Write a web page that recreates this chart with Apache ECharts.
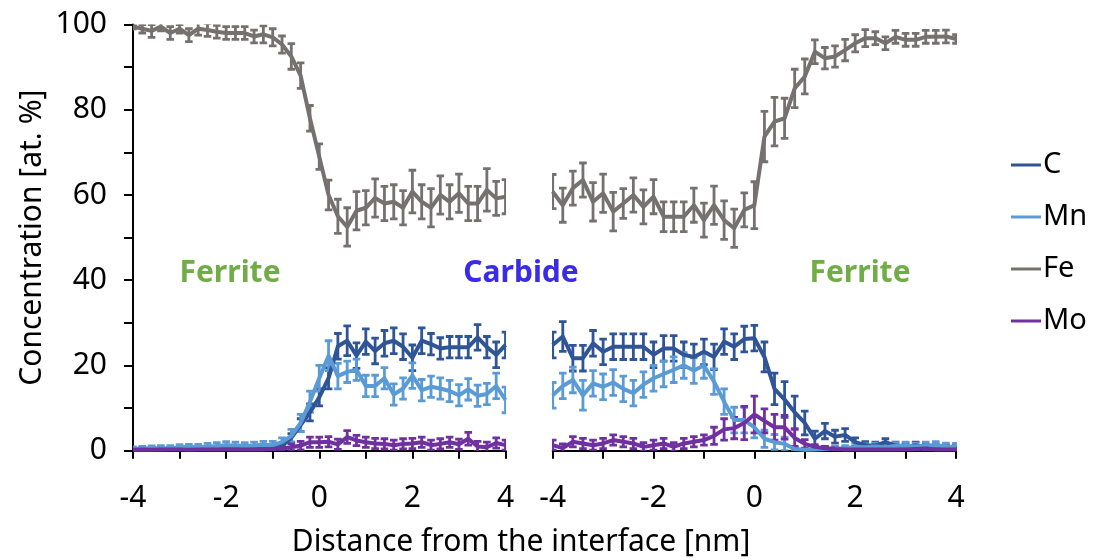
<!DOCTYPE html>
<html>
<head>
<meta charset="utf-8">
<script src="https://cdn.jsdelivr.net/npm/echarts@6/dist/echarts.min.js"></script>
<style>
  html, body { margin: 0; padding: 0; background: #fff; }
  #chart { width: 1094px; height: 560px; }
</style>
</head>
<body>
<div id="chart"></div>
<script>
// Distance from the interface [nm], sampled every 0.2 nm in each panel
const distance = [-4, -3.8, -3.6, -3.4, -3.2, -3, -2.8, -2.6, -2.4, -2.2, -2, -1.8, -1.6, -1.4, -1.2, -1, -0.8, -0.6, -0.4, -0.2,
  0, 0.2, 0.4, 0.6, 0.8, 1, 1.2, 1.4, 1.6, 1.8, 2, 2.2, 2.4, 2.6, 2.8, 3, 3.2, 3.4, 3.6, 3.8, 4];

const xTickLabels = ['-4', '-2', '0', '2', '4'];
const yTickLabels = ['0', '20', '40', '60', '80', '100'];
const elements = ['C', 'Mn', 'Fe', 'Mo'];

// Ferrite -> carbide interface (left panel)
const leftC = [0.3, 0.3, 0.4, 0.3, 0.4, 0.5, 0.4, 0.5, 0.5, 0.6, 0.6, 0.5, 0.7, 0.8, 0.7, 0.8, 1.2, 3, 6, 9,
  12.5, 17, 24.5, 25.8, 22.3, 25.6, 23.4, 25.2, 25.8, 24.4, 21.8, 25.8, 25, 24, 24.3, 24.3, 24.3, 26.6, 24.3, 22.5, 24.8];
const leftCErr = [0.3, 0.3, 0.3, 0.3, 0.3, 0.3, 0.3, 0.3, 0.3, 0.3, 0.3, 0.3, 0.3, 0.3, 0.3, 0.3, 0.4, 1, 1.5, 2,
  2, 2.5, 3, 3.5, 3, 3, 3, 3, 3, 3, 3, 3, 2.5, 2.5, 2.5, 2.5, 2.5, 3, 2.5, 3, 3];
const leftMn = [0.4, 0.5, 0.6, 0.6, 0.6, 0.8, 0.9, 0.8, 1.0, 1.1, 1.3, 1.2, 1.1, 1.2, 1.4, 1.3, 2, 3.5, 6.5, 11.5,
  17, 22.3, 17.5, 18.5, 19, 15.2, 15.2, 17, 13.2, 14.6, 17.6, 14.2, 15, 14.6, 14, 13, 14.4, 12.9, 13.3, 15.2, 11.9];
const leftMnErr = [0.5, 0.5, 0.5, 0.6, 0.6, 0.6, 0.6, 0.7, 0.7, 0.8, 0.8, 0.8, 0.8, 0.8, 0.8, 0.9, 1, 1.5, 2, 2.5,
  3, 3.5, 3, 2.5, 2.5, 2.5, 2.5, 2.5, 2.5, 2.5, 3, 2.5, 2.5, 2.5, 2.5, 2.5, 2.5, 2.5, 2.5, 3, 3];
const leftFe = [99.5, 99, 98.5, 99.5, 98, 99, 97.5, 99, 98.7, 98.3, 98, 98, 98, 97.2, 97.7, 97, 95.3, 92.5, 88, 78,
  69, 60, 55, 52.5, 56.3, 57, 59.3, 58, 58.4, 57, 60.8, 58.4, 57, 60, 58.4, 60.4, 58, 58, 61.2, 59.2, 59.6];
const leftFeErr = [0.5, 1, 1.5, 1, 1.5, 1, 1.5, 1.5, 1.5, 1.5, 1.5, 1.5, 1.5, 1.5, 2, 2, 2, 3, 3, 3,
  3, 3.5, 4, 4.5, 4.5, 4, 4.5, 4, 4, 4, 5, 4, 4.5, 4.5, 4, 4.5, 4, 4, 5, 4, 4];
const leftMo = [0.2, 0.3, 0.2, 0.3, 0.3, 0.3, 0.2, 0.3, 0.3, 0.3, 0.3, 0.3, 0.3, 0.3, 0.3, 0.4, 0.5, 0.8, 1.2, 2,
  2, 2.1, 1.5, 3.2, 2.4, 2, 1.7, 1.6, 1.3, 1.6, 1.7, 2, 1.3, 1.6, 2, 1.5, 2.8, 1, 0.8, 1.8, 1.3];
const leftMoErr = [0.3, 0.3, 0.3, 0.3, 0.3, 0.3, 0.3, 0.3, 0.3, 0.3, 0.3, 0.3, 0.3, 0.3, 0.3, 0.3, 0.4, 0.8, 1, 1.2,
  1.2, 1.2, 1.2, 1.5, 1.2, 1.2, 1.2, 1.2, 1.2, 1.2, 1.2, 1.2, 1.2, 1.2, 1.2, 1.2, 1.5, 1.2, 1.2, 1.2, 1.2];

// Carbide -> ferrite interface (right panel)
const rightC = [24.8, 26.8, 21.7, 21.7, 25.2, 23.2, 24.4, 24.4, 24.4, 24.4, 22.5, 24, 24, 22.5, 22, 23.2, 22, 25.6, 24.4, 26.2,
  26.4, 22, 14.5, 12, 9, 6.5, 2.8, 4.6, 3.3, 3.7, 2, 1.3, 1.2, 2, 1.2, 1, 1.2, 0.9, 0.8, 0.8, 0.8];
const rightCErr = [3, 3.5, 3, 3, 3, 3, 3, 3, 3, 3, 3, 3, 3, 3, 3, 3, 3, 3, 3, 3,
  3, 3.5, 3.7, 4.2, 3.8, 2.8, 1.8, 1.8, 1.5, 1.5, 1, 0.8, 0.8, 0.8, 0.8, 0.8, 0.8, 0.6, 0.6, 0.6, 0.6];
const rightMn = [13, 15.2, 16.6, 13, 15.8, 15, 16, 14.5, 13.5, 15.5, 17, 18, 19, 20, 18.8, 20, 16.2, 11.5, 7.2, 7.2,
  5.5, 2.8, 2, 1.6, 0.4, 0.2, 0.3, 0.4, 0.5, 0.6, 0.9, 0.8, 1, 0.8, 1.1, 1.2, 1, 1.2, 1.3, 1, 0.9];
const rightMnErr = [3, 3, 3, 3.5, 3, 3, 3, 3, 3, 3, 3, 3, 3, 3, 3, 3, 3, 3, 3, 3,
  2.5, 2, 1.8, 1.6, 0.4, 0.3, 0.4, 0.5, 0.5, 0.6, 0.8, 0.8, 0.8, 0.8, 0.8, 0.8, 0.8, 0.8, 0.8, 0.8, 0.8];
const rightFe = [60.8, 57.6, 61.6, 63.5, 58.4, 60.4, 56.1, 58, 60, 57.2, 59.6, 54.9, 54.9, 54.9, 57.6, 54.1, 57.6, 54.1, 52.2, 56.5,
  57.6, 73.7, 77.2, 78, 85, 87.8, 93.6, 92.1, 92.5, 94, 95.6, 96.8, 96.8, 95.6, 97.1, 96.4, 96.4, 97.1, 97.1, 97.2, 96.6];
const rightFeErr = [4, 4, 4, 4, 4.5, 4.5, 4.5, 3.5, 4, 4, 4, 3.5, 3.5, 3.5, 4, 4, 4.5, 4.5, 4.5, 4,
  5.5, 5.9, 5.7, 4.7, 4.5, 4.1, 2.8, 2.5, 2.5, 2.5, 2, 2, 1.5, 1.5, 1.5, 1.5, 1.5, 1.5, 1.5, 1.5, 1];
const rightMo = [1.3, 0.6, 2.1, 1.7, 1.3, 1.7, 2.5, 2.1, 1.7, 0.9, 1.3, 1.7, 0.9, 1.7, 2.1, 2.5, 3.5, 5, 5.3, 6.5,
  8.5, 7, 5.5, 5.5, 3, 1.6, 0.9, 0.6, 0.4, 0.3, 0.3, 0.3, 0.3, 0.3, 0.3, 0.3, 0.4, 0.5, 0.3, 0.3, 0.3];
const rightMoErr = [1.2, 1, 1.2, 1.2, 1.2, 1.2, 1.2, 1.2, 1.2, 1, 1.2, 1.2, 1, 1.2, 1.2, 1.2, 2, 2.5, 2.5, 3.9,
  4.3, 2.8, 3, 2.8, 2, 1, 0.5, 0.4, 0.3, 0.3, 0.3, 0.3, 0.3, 0.3, 0.3, 0.3, 0.3, 0.3, 0.3, 0.3, 0.3];

const colors = { C: '#2F5597', Mn: '#5B9BD5', Fe: '#767171', Mo: '#7030A0' };
const FONT = "'Noto Sans', 'Open Sans', sans-serif";

const panels = [
  { C: [leftC, leftCErr], Mn: [leftMn, leftMnErr], Fe: [leftFe, leftFeErr], Mo: [leftMo, leftMoErr] },
  { C: [rightC, rightCErr], Mn: [rightMn, rightMnErr], Fe: [rightFe, rightFeErr], Mo: [rightMo, rightMoErr] }
];

function errorBarRender(params, api) {
  const x = api.value(0);
  const top = api.coord([x, api.value(2)]);
  const bot = api.coord([x, api.value(1)]);
  const hw = 3.8;
  const style = { stroke: api.visual('color'), lineWidth: 2.8 };
  return {
    type: 'group',
    children: [
      { type: 'line', shape: { x1: top[0], y1: top[1], x2: bot[0], y2: bot[1] }, style },
      { type: 'line', shape: { x1: top[0] - hw, y1: top[1], x2: top[0] + hw, y2: top[1] }, style },
      { type: 'line', shape: { x1: bot[0] - hw, y1: bot[1], x2: bot[0] + hw, y2: bot[1] }, style }
    ]
  };
}

const series = [];
panels.forEach((panel, p) => {
  elements.forEach(el => {
    const [vals, errs] = panel[el];
    series.push({
      name: el, type: 'custom', xAxisIndex: p, yAxisIndex: p,
      renderItem: errorBarRender, clip: true,
      itemStyle: { color: colors[el] },
      encode: { x: 0, y: [1, 2] },
      data: distance.map((d, i) => [d, vals[i] - errs[i], vals[i] + errs[i]]),
      z: 2
    });
    series.push({
      name: el, type: 'line', xAxisIndex: p, yAxisIndex: p,
      showSymbol: false, symbol: 'none',
      color: colors[el],
      lineStyle: { width: 4, color: colors[el], join: 'round' },
      data: distance.map((d, i) => [d, vals[i]]),
      z: 3
    });
  });
});
// line series first so the legend picks their look
series.sort((a, b) => (a.type === 'line' ? 0 : 1) - (b.type === 'line' ? 0 : 1));

const axisLineStyle = { color: '#000', width: 2 };
function xAxis(gridIndex) {
  return {
    type: 'value', gridIndex, min: -4, max: 4, interval: 1,
    axisLine: { show: true, onZero: false, lineStyle: axisLineStyle },
    axisTick: { show: true, length: 8, lineStyle: axisLineStyle },
    splitLine: { show: false },
    axisLabel: {
      margin: 33, fontSize: 30, color: '#000', fontFamily: FONT,
      formatter: v => { const s = String(v); return xTickLabels.includes(s) ? s : ''; }
    }
  };
}

const option = {
  animation: false,
  backgroundColor: '#fff',
  grid: [
    { left: 133, top: 24.5, width: 372.5, height: 426.2 },
    { left: 552.7, top: 24.5, width: 403.3, height: 426.2 }
  ],
  xAxis: [xAxis(0), xAxis(1)],
  yAxis: [
    {
      type: 'value', gridIndex: 0, min: 0, max: 100, interval: 10,
      name: 'Concentration [at. %]', nameLocation: 'middle', nameGap: 86,
      nameTextStyle: { fontSize: 30, color: '#000', fontFamily: FONT },
      axisLine: { show: true, onZero: false, lineStyle: axisLineStyle },
      axisTick: { show: true, length: 9, lineStyle: axisLineStyle },
      splitLine: { show: false },
      axisLabel: {
        margin: 26, fontSize: 30, color: '#000', fontFamily: FONT,
        formatter: v => { const s = String(v); return yTickLabels.includes(s) ? s : ''; }
      }
    },
    { type: 'value', gridIndex: 1, min: 0, max: 100, show: false }
  ],
  legend: {
    data: elements, orient: 'vertical', left: 1006, top: 145,
    icon: 'rect', itemWidth: 30, itemHeight: 3, itemGap: 22,
    textStyle: { fontSize: 29, color: '#000', fontFamily: FONT, lineHeight: 30, padding: [0, 0, 0, -3] }
  },
  graphic: [
    { type: 'text', x: 230, y: 273, style: { text: 'Ferrite', fill: '#70AD47', font: 'bold 30px ' + FONT, textAlign: 'center', textVerticalAlign: 'middle' } },
    { type: 'text', x: 521, y: 273, style: { text: 'Carbide', fill: '#3A2BE8', font: 'bold 30px ' + FONT, textAlign: 'center', textVerticalAlign: 'middle' } },
    { type: 'text', x: 860, y: 273, style: { text: 'Ferrite', fill: '#70AD47', font: 'bold 30px ' + FONT, textAlign: 'center', textVerticalAlign: 'middle' } },
    { type: 'text', x: 521, y: 542, style: { text: 'Distance from the interface [nm]', fill: '#000', font: '30px ' + FONT, textAlign: 'center', textVerticalAlign: 'middle' } }
  ],
  series
};

const chart = echarts.init(document.getElementById('chart'), null, { renderer: 'canvas' });
chart.setOption(option);
</script>
</body>
</html>
